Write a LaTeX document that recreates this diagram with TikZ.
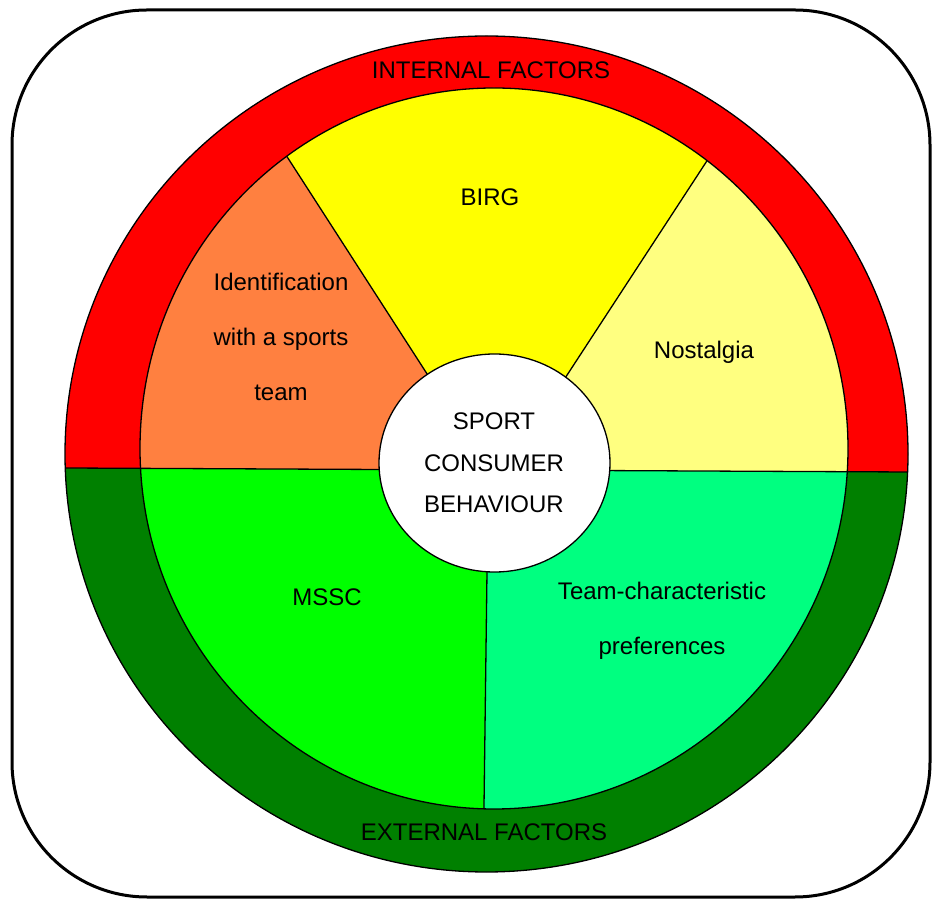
\documentclass[tikz,border=0pt]{standalone}
\usepackage{fontspec}
\setmainfont{Liberation Sans}
\definecolor{ringred}{HTML}{FF0000}
\definecolor{ringgreen}{HTML}{008000}
\definecolor{secorange}{HTML}{FF8040}
\definecolor{secyellow}{HTML}{FFFF00}
\definecolor{seclight}{HTML}{FFFF80}
\definecolor{secgreen}{HTML}{00FF00}
\definecolor{secteal}{HTML}{00FF80}
\tikzset{
  edge/.style={draw=black, line width=1.3pt},
  lbl/.style={font=\fontsize{24}{55}\selectfont, align=center, inner sep=0pt, text=black},
  ctr/.style={font=\fontsize{24}{41.5}\selectfont, align=center, inner sep=0pt, text=black},
}
\begin{document}
\begin{tikzpicture}[x=1pt,y=1pt]
\useasboundingbox (0,0) rectangle (932,900);
% frame
\draw[line width=3pt, rounded corners=135pt] (12,890) rectangle (930,3);
% outer ring
\fill[ringgreen] (486.5,446) ellipse [x radius=421.5, y radius=418];
\begin{scope}
  \clip (0,432.31) -- (932,427.89) -- (932,900) -- (0,900) -- cycle;
  \fill[ringred] (486.5,446) ellipse [x radius=421.5, y radius=418];
\end{scope}
\begin{scope}
  \clip (486.5,446) ellipse [x radius=421.5, y radius=418];
  \draw[edge] (0,432.31) -- (932,427.89);
\end{scope}
\draw[edge] (486.5,446) ellipse [x radius=421.5, y radius=418];
% pie sectors
\begin{scope}
  \clip (494,451.5) ellipse [x radius=354, y radius=360.5];
  \fill[secorange] (0,432.31) -- (489,430) -- (186,900) -- (0,900) -- cycle;
  \fill[secyellow] (489,430) -- (186,900) -- (812,900) -- (505,429.9) -- cycle;
  \fill[seclight] (505,429.9) -- (812,900) -- (932,900) -- (932,427.89) -- cycle;
  \fill[secgreen] (0,432.31) -- (488.3,429.9) -- (482.8,0) -- (0,0) -- cycle;
  \fill[secteal] (488.3,429.9) -- (932,427.89) -- (932,0) -- (482.8,0) -- cycle;
  \draw[edge] (489,430) -- (186,900);
  \draw[edge] (505,429.9) -- (812,900);
  \draw[edge] (488.3,429.9) -- (482.8,0);
  \draw[edge] (0,432.31) -- (932,427.89);
\end{scope}
\draw[edge] (494,451.5) ellipse [x radius=354, y radius=360.5];
% centre
\fill[white] (494.5,437) ellipse [x radius=115.5, y radius=109];
\draw[edge] (494.5,437) ellipse [x radius=115.5, y radius=109];
% labels
\node[lbl] (internal) at (491,830) {INTERNAL FACTORS};
\node[lbl] (external) at (484,68) {EXTERNAL FACTORS};
\node[lbl] (birg) at (490,703) {BIRG};
\node[lbl] (ident) at (281,563) {Identification\\with a sports\\team};
\node[lbl] (nost) at (704,548) {Nostalgia};
\node[ctr] (scb) at (494,437) {SPORT\\CONSUMER\\BEHAVIOUR};
\node[lbl] (mssc) at (327,303) {MSSC};
\node[lbl] (team) at (662,279.5) {Team-characteristic\\preferences};
\end{tikzpicture}
\end{document}
